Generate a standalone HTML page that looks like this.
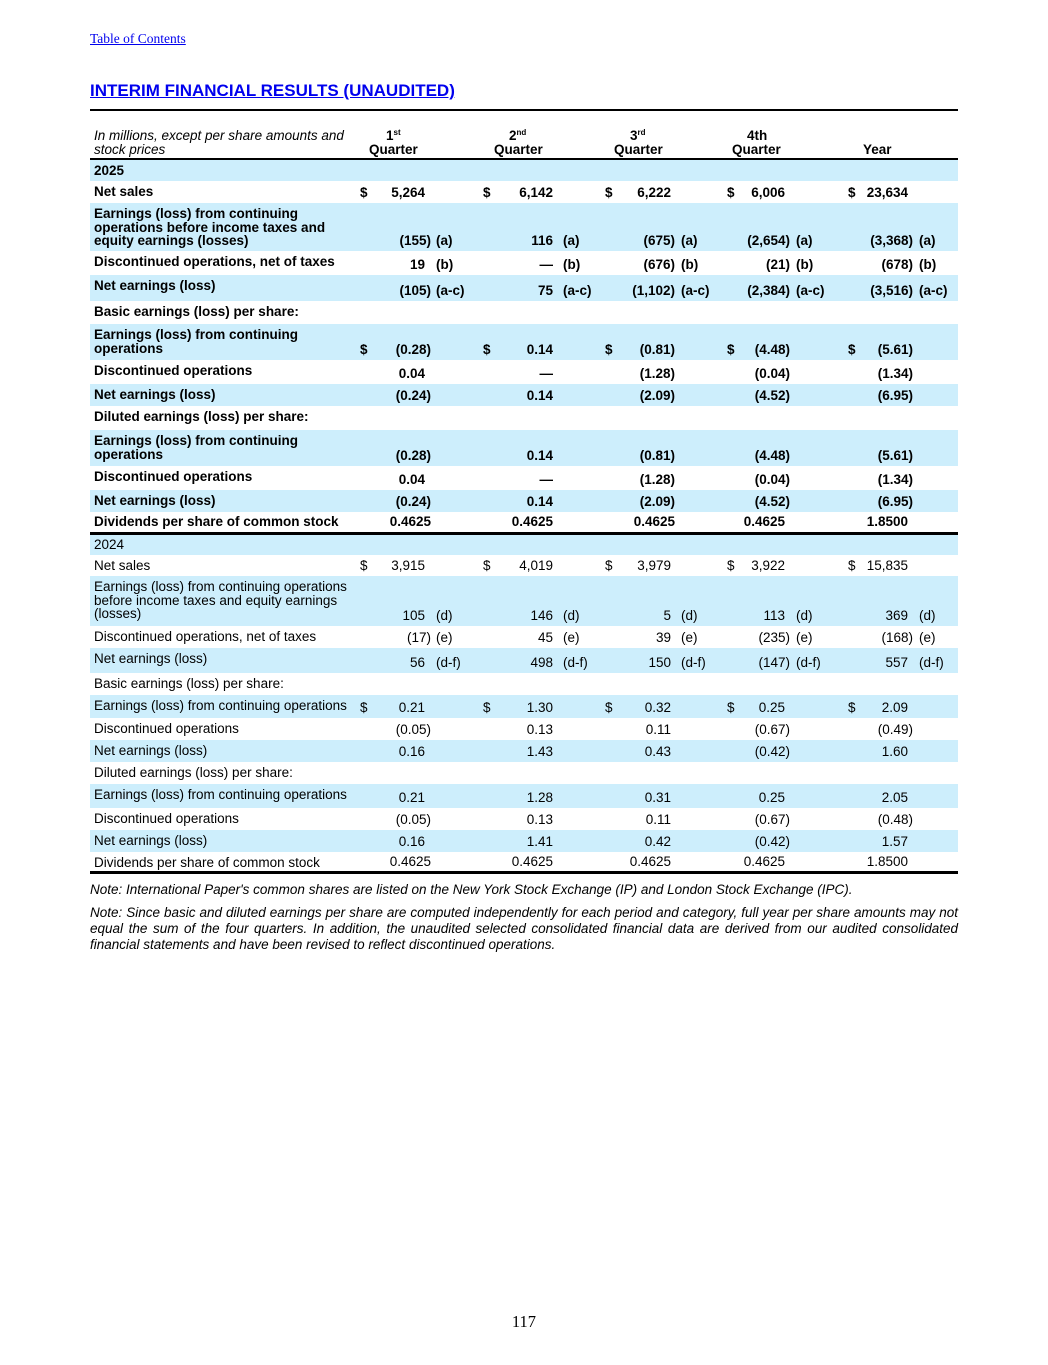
<!DOCTYPE html>
<html><head><meta charset="utf-8"><style>
*{margin:0;padding:0}
body{width:1048px;height:1365px;position:relative;background:#fff;font-family:"Liberation Sans",Arial,sans-serif;font-size:13.5px;color:#000}
.a{position:absolute;white-space:nowrap;line-height:14px}
.r{position:absolute;left:90px;width:868px}
.bl{background:#cdeefc}
.b{font-weight:bold}
.L{left:4px;top:4px;line-height:13.5px}
.v{bottom:3px}
.d1{left:270px}.n1{right:533px}.p1{right:527px}.f1{left:346px}
.d2{left:393px}.n2{right:405px}.p2{right:400px}.f2{left:473px}
.d3{left:515px}.n3{right:287px}.p3{right:283px}.f3{left:591px}
.d4{left:637px}.n4{right:173px}.p4{right:168px}.f4{left:706px}
.d5{left:758px}.n5{right:50px}.p5{right:45px}.f5{left:829px}
sup{font-size:8px;vertical-align:5px;line-height:0}
.note{position:absolute;left:90px;width:868px;font-style:italic;font-size:13.5px;line-height:16px;text-align:justify}
</style></head><body>
<div class="a" style="left:90px;top:32px;font-family:'Liberation Serif',serif;font-size:13.5px;color:#00e;text-decoration:underline">Table of Contents</div>
<div class="a b" style="left:90px;top:82px;font-size:17px;line-height:18px;color:#00e;text-decoration:underline">INTERIM FINANCIAL RESULTS (UNAUDITED)</div>
<div style="position:absolute;left:90px;top:109px;width:868px;height:2px;background:#000"></div>

<div class="a" style="left:94px;top:129px;font-style:italic;line-height:14px">In millions, except per share amounts and<br>stock prices</div>
<div class="a b" style="left:369px;top:129px;line-height:14px"><span style="margin-left:17px">1<sup>st</sup></span><br>Quarter</div>
<div class="a b" style="left:494px;top:129px;line-height:14px"><span style="margin-left:15px">2<sup>nd</sup></span><br>Quarter</div>
<div class="a b" style="left:614px;top:129px;line-height:14px"><span style="margin-left:16px">3<sup>rd</sup></span><br>Quarter</div>
<div class="a b" style="left:732px;top:129px;line-height:14px"><span style="margin-left:15px">4th</span><br>Quarter</div>
<div class="a b" style="left:863px;top:143px">Year</div>
<div style="position:absolute;left:90px;top:158px;width:868px;height:2px;background:#000"></div>

<div class="r bl b" style="top:160px;height:21px"><span class="a L">2025</span></div>
<div class="r b" style="top:181px;height:22px"><span class="a L">Net sales</span><span class="a v d1">$</span><span class="a v n1">5,264</span><span class="a v d2">$</span><span class="a v n2">6,142</span><span class="a v d3">$</span><span class="a v n3">6,222</span><span class="a v d4">$</span><span class="a v n4">6,006</span><span class="a v d5">$</span><span class="a v n5">23,634</span></div>
<div class="r bl b" style="top:203px;height:48px"><span class="a L">Earnings (loss) from continuing<br>operations before income taxes and<br>equity earnings (losses)</span><span class="a v p1">(155)</span><span class="a v f1">(a)</span><span class="a v n2">116</span><span class="a v f2">(a)</span><span class="a v p3">(675)</span><span class="a v f3">(a)</span><span class="a v p4">(2,654)</span><span class="a v f4">(a)</span><span class="a v p5">(3,368)</span><span class="a v f5">(a)</span></div>
<div class="r b" style="top:251px;height:24px"><span class="a L">Discontinued operations, net of taxes</span><span class="a v n1">19</span><span class="a v f1">(b)</span><span class="a v n2">—</span><span class="a v f2">(b)</span><span class="a v p3">(676)</span><span class="a v f3">(b)</span><span class="a v p4">(21)</span><span class="a v f4">(b)</span><span class="a v p5">(678)</span><span class="a v f5">(b)</span></div>
<div class="r bl b" style="top:275px;height:26px"><span class="a L">Net earnings (loss)</span><span class="a v p1">(105)</span><span class="a v f1">(a-c)</span><span class="a v n2">75</span><span class="a v f2">(a-c)</span><span class="a v p3">(1,102)</span><span class="a v f3">(a-c)</span><span class="a v p4">(2,384)</span><span class="a v f4">(a-c)</span><span class="a v p5">(3,516)</span><span class="a v f5">(a-c)</span></div>
<div class="r b" style="top:301px;height:23px"><span class="a L">Basic earnings (loss) per share:</span></div>
<div class="r bl b" style="top:324px;height:36px"><span class="a L">Earnings (loss) from continuing<br>operations</span><span class="a v d1">$</span><span class="a v p1">(0.28)</span><span class="a v d2">$</span><span class="a v n2">0.14</span><span class="a v d3">$</span><span class="a v p3">(0.81)</span><span class="a v d4">$</span><span class="a v p4">(4.48)</span><span class="a v d5">$</span><span class="a v p5">(5.61)</span></div>
<div class="r b" style="top:360px;height:24px"><span class="a L">Discontinued operations</span><span class="a v n1">0.04</span><span class="a v n2">—</span><span class="a v p3">(1.28)</span><span class="a v p4">(0.04)</span><span class="a v p5">(1.34)</span></div>
<div class="r bl b" style="top:384px;height:22px"><span class="a L">Net earnings (loss)</span><span class="a v p1">(0.24)</span><span class="a v n2">0.14</span><span class="a v p3">(2.09)</span><span class="a v p4">(4.52)</span><span class="a v p5">(6.95)</span></div>
<div class="r b" style="top:406px;height:24px"><span class="a L">Diluted earnings (loss) per share:</span></div>
<div class="r bl b" style="top:430px;height:36px"><span class="a L">Earnings (loss) from continuing<br>operations</span><span class="a v p1">(0.28)</span><span class="a v n2">0.14</span><span class="a v p3">(0.81)</span><span class="a v p4">(4.48)</span><span class="a v p5">(5.61)</span></div>
<div class="r b" style="top:466px;height:24px"><span class="a L">Discontinued operations</span><span class="a v n1">0.04</span><span class="a v n2">—</span><span class="a v p3">(1.28)</span><span class="a v p4">(0.04)</span><span class="a v p5">(1.34)</span></div>
<div class="r bl b" style="top:490px;height:22px"><span class="a L">Net earnings (loss)</span><span class="a v p1">(0.24)</span><span class="a v n2">0.14</span><span class="a v p3">(2.09)</span><span class="a v p4">(4.52)</span><span class="a v p5">(6.95)</span></div>
<div class="r b" style="top:512px;height:20px"><span class="a L" style="top:3px">Dividends per share of common stock</span><span class="a v p1">0.4625</span><span class="a v n2">0.4625</span><span class="a v p3">0.4625</span><span class="a v n4">0.4625</span><span class="a v n5">1.8500</span></div>
<div style="position:absolute;left:90px;top:532px;width:868px;height:3px;background:#000"></div>

<div class="r bl" style="top:535px;height:20px"><span class="a L" style="top:3px">2024</span></div>
<div class="r" style="top:555px;height:21px"><span class="a L">Net sales</span><span class="a v d1">$</span><span class="a v n1">3,915</span><span class="a v d2">$</span><span class="a v n2">4,019</span><span class="a v d3">$</span><span class="a v n3">3,979</span><span class="a v d4">$</span><span class="a v n4">3,922</span><span class="a v d5">$</span><span class="a v n5">15,835</span></div>
<div class="r bl" style="top:576px;height:50px"><span class="a L">Earnings (loss) from continuing operations<br>before income taxes and equity earnings<br>(losses)</span><span class="a v n1">105</span><span class="a v f1">(d)</span><span class="a v n2">146</span><span class="a v f2">(d)</span><span class="a v n3">5</span><span class="a v f3">(d)</span><span class="a v n4">113</span><span class="a v f4">(d)</span><span class="a v n5">369</span><span class="a v f5">(d)</span></div>
<div class="r" style="top:626px;height:22px"><span class="a L">Discontinued operations, net of taxes</span><span class="a v p1">(17)</span><span class="a v f1">(e)</span><span class="a v n2">45</span><span class="a v f2">(e)</span><span class="a v n3">39</span><span class="a v f3">(e)</span><span class="a v p4">(235)</span><span class="a v f4">(e)</span><span class="a v p5">(168)</span><span class="a v f5">(e)</span></div>
<div class="r bl" style="top:648px;height:25px"><span class="a L">Net earnings (loss)</span><span class="a v n1">56</span><span class="a v f1">(d-f)</span><span class="a v n2">498</span><span class="a v f2">(d-f)</span><span class="a v n3">150</span><span class="a v f3">(d-f)</span><span class="a v p4">(147)</span><span class="a v f4">(d-f)</span><span class="a v n5">557</span><span class="a v f5">(d-f)</span></div>
<div class="r" style="top:673px;height:22px"><span class="a L">Basic earnings (loss) per share:</span></div>
<div class="r bl" style="top:695px;height:23px"><span class="a L">Earnings (loss) from continuing operations</span><span class="a v d1">$</span><span class="a v n1">0.21</span><span class="a v d2">$</span><span class="a v n2">1.30</span><span class="a v d3">$</span><span class="a v n3">0.32</span><span class="a v d4">$</span><span class="a v n4">0.25</span><span class="a v d5">$</span><span class="a v n5">2.09</span></div>
<div class="r" style="top:718px;height:22px"><span class="a L">Discontinued operations</span><span class="a v p1">(0.05)</span><span class="a v n2">0.13</span><span class="a v n3">0.11</span><span class="a v p4">(0.67)</span><span class="a v p5">(0.49)</span></div>
<div class="r bl" style="top:740px;height:22px"><span class="a L">Net earnings (loss)</span><span class="a v n1">0.16</span><span class="a v n2">1.43</span><span class="a v n3">0.43</span><span class="a v p4">(0.42)</span><span class="a v n5">1.60</span></div>
<div class="r" style="top:762px;height:22px"><span class="a L">Diluted earnings (loss) per share:</span></div>
<div class="r bl" style="top:784px;height:24px"><span class="a L">Earnings (loss) from continuing operations</span><span class="a v n1">0.21</span><span class="a v n2">1.28</span><span class="a v n3">0.31</span><span class="a v n4">0.25</span><span class="a v n5">2.05</span></div>
<div class="r" style="top:808px;height:22px"><span class="a L">Discontinued operations</span><span class="a v p1">(0.05)</span><span class="a v n2">0.13</span><span class="a v n3">0.11</span><span class="a v p4">(0.67)</span><span class="a v p5">(0.48)</span></div>
<div class="r bl" style="top:830px;height:22px"><span class="a L">Net earnings (loss)</span><span class="a v n1">0.16</span><span class="a v n2">1.41</span><span class="a v n3">0.42</span><span class="a v p4">(0.42)</span><span class="a v n5">1.57</span></div>
<div class="r" style="top:852px;height:20px"><span class="a L" style="top:4px">Dividends per share of common stock</span><span class="a v p1">0.4625</span><span class="a v n2">0.4625</span><span class="a v n3">0.4625</span><span class="a v n4">0.4625</span><span class="a v n5">1.8500</span></div>
<div style="position:absolute;left:90px;top:871px;width:868px;height:3px;background:#000"></div>

<div class="note" style="top:882px">Note: International Paper's common shares are listed on the New York Stock Exchange (IP) and London Stock Exchange (IPC).</div>
<div class="note" style="top:905px">Note: Since basic and diluted earnings per share are computed independently for each period and category, full year per share amounts may not equal the sum of the four quarters. In addition, the unaudited selected consolidated financial data are derived from our audited consolidated financial statements and have been revised to reflect discontinued operations.</div>

<div class="a" style="left:0;width:1048px;text-align:center;top:1313px;font-family:'Liberation Serif',serif;font-size:16.5px;line-height:18px">117</div>
</body></html>
